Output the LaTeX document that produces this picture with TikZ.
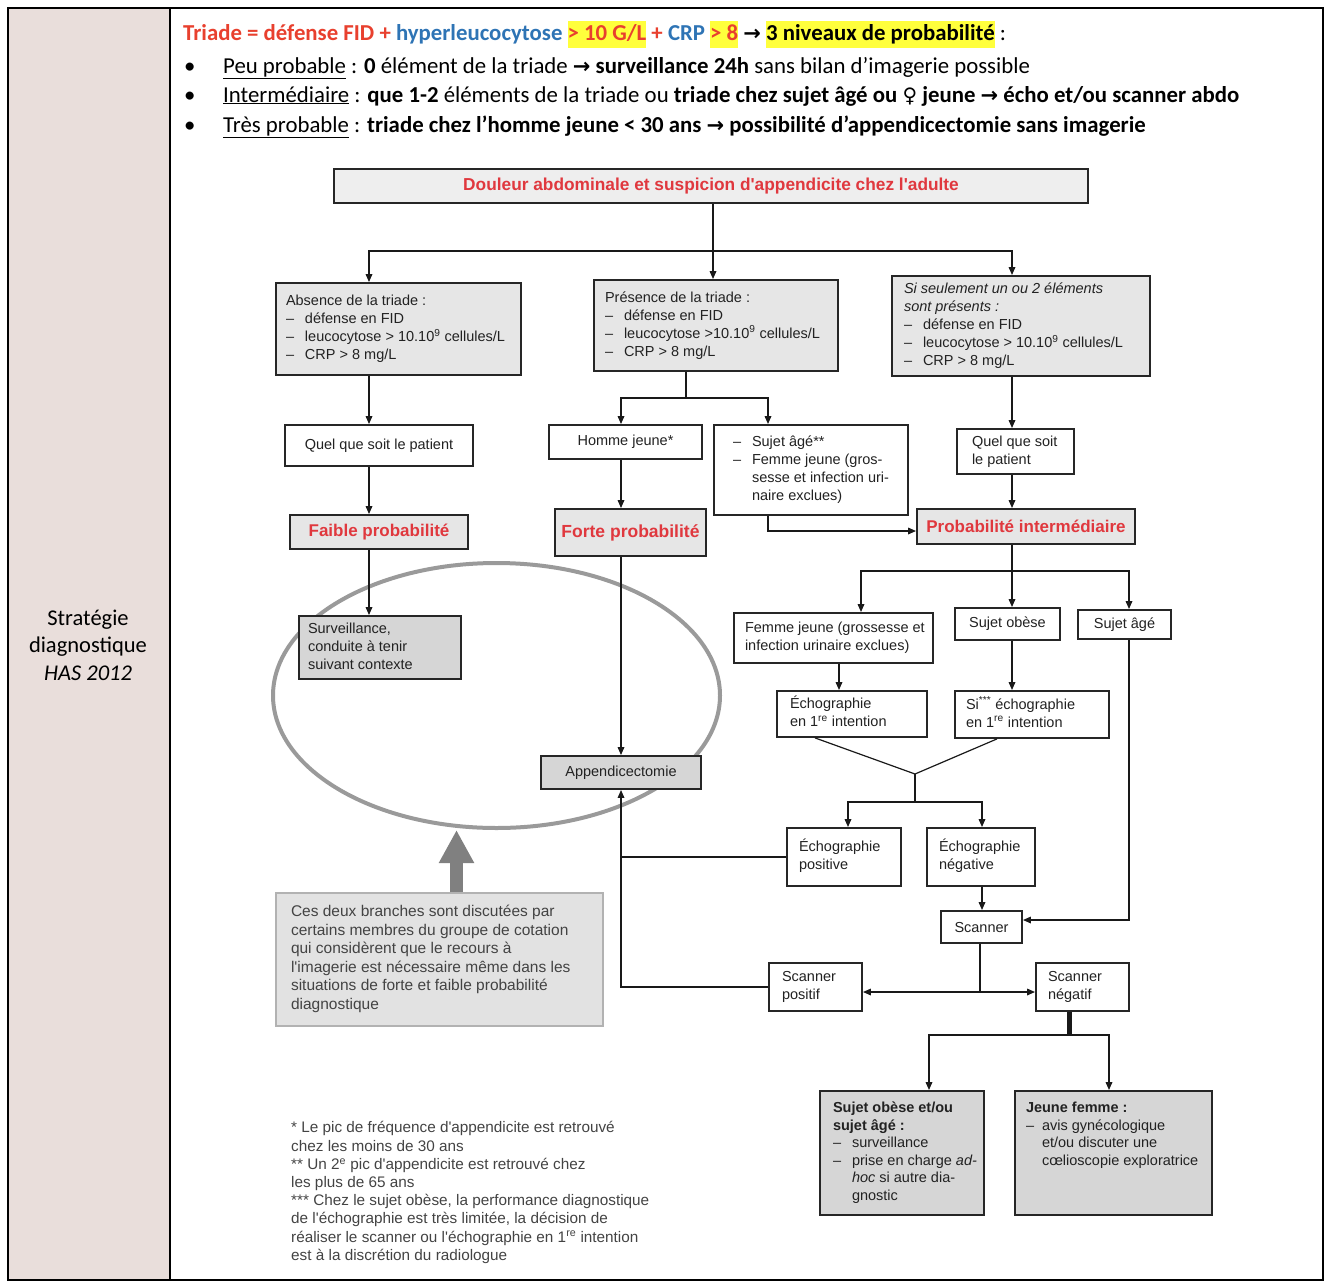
\documentclass[tikz,border=0pt]{standalone}
\usepackage{fontspec}
\setmainfont{Liberation Sans}
\newfontfamily\calfont{Carlito}
\newfontfamily\djv{DejaVu Sans}
\usetikzlibrary{arrows.meta,shapes.geometric}
\definecolor{pinkbg}{HTML}{E9DEDB}
\definecolor{topred}{HTML}{E8402E}
\definecolor{topblue}{HTML}{2E74B5}
\definecolor{hlyellow}{HTML}{FFFF3C}
\definecolor{fred}{HTML}{E0383E}
\definecolor{txt}{HTML}{222222}
\definecolor{titlegray}{HTML}{EEEEEE}
\definecolor{lgray}{HTML}{E6E6E6}
\definecolor{dgray}{HTML}{D6D6D6}
\definecolor{notegray}{HTML}{E2E2E2}
\definecolor{ellgray}{HTML}{9A9A9A}
\definecolor{bigarrowgray}{HTML}{808080}
\newcommand\itm{\makebox[19pt][l]{–}}
\newcommand\ind{\hspace*{19pt}}
\newcommand\q{\textquotesingle}
\newcommand\lt[2]{\makebox[#1pt][l]{\begin{tabular}{@{}l@{}}#2\end{tabular}}}
\newcommand\hly[1]{{\setlength{\fboxsep}{0pt}\colorbox{hlyellow}{\strut#1}}}
\newcommand\rarr{{\djv\bfseries\fontsize{21}{24}\selectfont →}}
\tikzset{
  box/.style={draw=black!85, line width=1.8pt, inner ysep=0pt, inner xsep=0pt, text=txt},
  wbox/.style={box, fill=white},
  gbox/.style={box, fill=lgray},
  dbox/.style={box, fill=dgray},
  redtitle/.style={font=\fontsize{17}{20}\selectfont\bfseries, text=fred},
  arr/.style={line width=1.6pt, draw=black!90, -{Triangle[length=8pt,width=6.5pt]}},
  ln/.style={line width=1.6pt, draw=black!90},
  toptext/.style={anchor=base west, inner sep=0pt, font=\calfont\fontsize{22.8}{27}\selectfont},
}
\begin{document}
\begin{tikzpicture}[x=1pt,y=-1pt,font=\fontsize{14.5}{18}\selectfont]
\useasboundingbox (0,0) rectangle (1334,1283);
% table frame
\fill[pinkbg] (8,8) rectangle (170,1280);
\draw[line width=1.5pt] (8,8) rectangle (1323,1280);
\draw[line width=1.5pt] (170,8) -- (170,1280);
\node[align=center, inner sep=0pt, font=\calfont\fontsize{22.5}{27.5}\selectfont] (side) at (88,645) {Stratégie\\diagnostique\\\textit{HAS 2012}};

% top text
\node[toptext] (t1) at (183,40) {\bfseries\textcolor{topred}{Triade = défense FID +} \textcolor{topblue}{hyperleucocytose} \hly{\textcolor{topred}{> 10 G/L}} \textcolor{topred}{+} \textcolor{topblue}{CRP} \hly{\textcolor{topred}{> 8}} \rarr\ \hly{3 niveaux de probabilité}\mdseries\ :};
\node[toptext] (t2) at (184,73) {\makebox[39pt][l]{•}\underline{Peu probable} : \textbf{0} élément de la triade \rarr\ \textbf{surveillance 24h} sans bilan d’imagerie possible};
\node[toptext] (t3) at (184,102) {\makebox[39pt][l]{•}\underline{Intermédiaire} : \textbf{que 1-2} éléments de la triade ou \textbf{triade chez sujet âgé ou {\djv\mdseries\fontsize{20}{24}\selectfont ♀} jeune \rarr\ écho et/ou scanner abdo}};
\node[toptext] (t4) at (184,132) {\makebox[39pt][l]{•}\underline{Très probable} : \textbf{triade chez l’homme jeune < 30 ans \rarr\ possibilité d’appendicectomie sans imagerie}};

% ellipse (behind boxes)
\node[draw=ellgray, line width=4pt, ellipse, minimum width=447, minimum height=265, inner sep=0pt] (ell) at (496.5,695.5) {};

% boxes
\node[box, fill=titlegray, minimum width=754, minimum height=34, font=\fontsize{17.3}{20}\selectfont\bfseries, text=fred] (top) at (711,186) {Douleur abdominale et suspicion d\q appendicite chez l\q adulte};
\node[gbox, minimum height=92, inner xsep=10] (abs) at (398.5,329) {\lt{225}{Absence de la triade :\\ \itm défense en FID\\ \itm leucocytose > 10.10\textsuperscript{9} cellules/L\\ \itm CRP > 8 mg/L}};
\node[gbox, minimum height=91, inner xsep=11] (pres) at (716,325.5) {\lt{222}{Présence de la triade :\\ \itm défense en FID\\ \itm leucocytose >10.10\textsuperscript{9} cellules/L\\ \itm CRP > 8 mg/L}};
\node[gbox, minimum height=100, inner xsep=12] (seul) at (1021,326) {\lt{234}{\textit{Si seulement un ou 2 éléments}\\ \textit{sont présents :}\\ \itm défense en FID\\ \itm leucocytose > 10.10\textsuperscript{9} cellules/L\\ \itm CRP > 8 mg/L}};
\node[wbox, minimum width=188, minimum height=41] (q1) at (379,445.5) {Quel que soit le patient};
\node[gbox, redtitle, minimum width=178, minimum height=34] (faible) at (379,532) {Faible probabilité};
\node[dbox, minimum height=63, inner xsep=9] (surv) at (380,647.5) {\lt{144}{Surveillance,\\conduite à tenir\\suivant contexte}};
\node[wbox, minimum width=153, minimum height=34] (homme) at (625.5,442) {Homme jeune*};
\node[wbox, minimum height=90, inner xsep=19] (sa) at (811,470) {\lt{156}{\itm Sujet âgé**\\ \itm Femme jeune (gros-\\ \ind sesse et infection uri-\\ \ind naire exclues)}};
\node[gbox, redtitle, font=\fontsize{17.5}{20}\selectfont\bfseries, minimum width=151, minimum height=47] (forte) at (630.5,532.5) {Forte probabilité};
\node[dbox, minimum width=160, minimum height=33] (app) at (621,772.5) {Appendicectomie};
\node[wbox, minimum height=45, inner xsep=15] (q2) at (1015.5,451.5) {\lt{87}{Quel que soit\\le patient}};
\node[gbox, redtitle, minimum width=218, minimum height=35] (pint) at (1026,526.5) {Probabilité intermédiaire};
\node[wbox, minimum height=50, inner xsep=11] (fj) at (833.5,638) {\lt{177}{Femme jeune (grossesse et\\infection urinaire exclues)}};
\node[wbox, minimum width=105, minimum height=32] (ob) at (1007.5,624) {Sujet obèse};
\node[wbox, minimum width=93, minimum height=29] (ag) at (1124.5,624.5) {Sujet âgé};
\node[wbox, minimum height=46, inner xsep=13] (e1) at (852,714) {\lt{124}{Échographie\\en 1\textsuperscript{re} intention}};
\node[wbox, minimum height=47, inner xsep=11] (si) at (1032,714.5) {\lt{132}{Si\textsuperscript{***} échographie\\en 1\textsuperscript{re} intention}};
\node[wbox, minimum height=58, inner xsep=12] (ep) at (844,857) {\lt{90}{Échographie\\positive}};
\node[wbox, minimum height=58, inner xsep=12] (en) at (981,857) {\lt{84}{Échographie\\négative}};
\node[wbox, minimum width=81, minimum height=32] (sc) at (981.5,927) {Scanner};
\node[wbox, minimum height=48, inner xsep=13] (sp) at (815.5,987) {\lt{67}{Scanner\\positif}};
\node[wbox, minimum height=48, inner xsep=12] (sn) at (1082.5,987) {\lt{69}{Scanner\\négatif}};
\node[dbox, minimum height=124, inner xsep=13, font=\fontsize{14.5}{17.5}\selectfont] (fo) at (902,1153) {\lt{138}{\textbf{Sujet obèse et/ou}\\ \textbf{sujet âgé :}\\ \itm surveillance\\ \itm prise en charge \textit{ad-}\\ \ind\textit{hoc} si autre dia-\\ \ind gnostic}};
\node[dbox, minimum height=124, inner xsep=11, font=\fontsize{14.5}{17.5}\selectfont] (jf) at (1113.5,1153) {\lt{175}{\textbf{Jeune femme :}\\ \makebox[16pt][l]{–}avis gynécologique\\ \hspace*{16pt}et/ou discuter une\\ \hspace*{16pt}cœlioscopie exploratrice\\ ~\\ ~}};
\node[draw=gray!60, fill=notegray, line width=1.2pt, minimum height=133, inner xsep=15, inner ysep=0pt, text=txt!85, font=\fontsize{15.5}{18.5}\selectfont] (note) at (439.5,959.5) {\lt{297}{Ces deux branches sont discutées par\\certains membres du groupe de cotation\\qui considèrent que le recours à\\l\q imagerie est nécessaire même dans les\\situations de forte et faible probabilité\\diagnostique}};
\node[anchor=north west, inner sep=0pt, text=txt!85, font=\fontsize{15.3}{18.2}\selectfont] (foot) at (291,1120) {\lt{380}{{}* Le pic de fréquence d\q appendicite est retrouvé\\{}chez les moins de 30 ans\\{}** Un 2\textsuperscript{e} pic d\q appendicite est retrouvé chez\\{}les plus de 65 ans\\{}*** Chez le sujet obèse, la performance diagnostique\\{}de l\q échographie est très limitée, la décision de\\{}réaliser le scanner ou l\q échographie en 1\textsuperscript{re} intention\\{}est à la discrétion du radiologue}};

% column coordinates
\coordinate (cL) at (369,0);
\coordinate (cM) at (713,0);
\coordinate (cP) at (686,0);
\coordinate (cH) at (621,0);
\coordinate (cS) at (768,0);
\coordinate (cR) at (1012,0);
\coordinate (cF) at (861,0);
\coordinate (cE) at (839,0);
\coordinate (cA) at (1129,0);
\coordinate (cEP) at (848,0);
\coordinate (cEN) at (982,0);
\coordinate (cSc) at (980,0);
\coordinate (cSN) at (1069,0);
\coordinate (cB1) at (929,0);
\coordinate (cB2) at (1109,0);
\coordinate (bx) at (456.5,0);
\coordinate (j1) at (713,251);
\coordinate (j2) at (686,398);
\coordinate (y3) at (0,531);
\coordinate (j4) at (1012,571);
\coordinate (d1) at (815,0);
\coordinate (d2) at (997,0);
\coordinate (j5) at (915,774);
\coordinate (j6) at (915,802);
\coordinate (y7) at (0,920);
\coordinate (j8) at (980,992);
\coordinate (j9) at (1069,1035);

% connectors
\draw[arr] (top.south -| cM) -- (pres.north -| cM);
\draw[arr] (j1) -| (abs.north -| cL);
\draw[arr] (j1) -| (seul.north -| cR);
\draw[arr] (abs.south -| cL) -- (q1.north -| cL);
\draw[arr] (q1.south -| cL) -- (faible.north -| cL);
\draw[arr] (faible.south -| cL) -- (surv.north -| cL);
\draw[ln] (pres.south -| cP) -- (j2);
\draw[arr] (j2) -| (homme.north -| cH);
\draw[arr] (j2) -| (sa.north -| cS);
\draw[arr] (homme.south -| cH) -- (forte.north -| cH);
\draw[arr] (forte.south -| cH) -- (app.north -| cH);
\draw[arr] (sa.south -| cS) |- (pint.west |- y3);
\draw[arr] (seul.south -| cR) -- (q2.north -| cR);
\draw[arr] (q2.south -| cR) -- (pint.north -| cR);
\draw[arr] (pint.south -| cR) -- (ob.north -| cR);
\draw[arr] (j4) -| (fj.north -| cF);
\draw[arr] (j4) -| (ag.north -| cA);
\draw[arr] (fj.south -| cE) -- (e1.north -| cE);
\draw[arr] (ob.south -| cR) -- (si.north -| cR);
\draw[ln, line width=1.2pt] (e1.south -| d1) -- (j5) -- (si.south -| d2);
\draw[ln, line width=1.2pt] (j5) -- (j6);
\draw[arr] (j6) -| (ep.north -| cEP);
\draw[arr] (j6) -| (en.north -| cEN);
\draw[ln] (ep.west) -- (ep.west -| cH);
\draw[arr] (sp.west) -| (app.south -| cH);
\draw[arr] (en.south -| cEN) -- (sc.north -| cEN);
\draw[arr] (ag.south -| cA) |- (sc.east |- y7);
\draw[ln] (sc.south -| cSc) -- (j8);
\draw[arr] (j8) -- (sp.east |- j8);
\draw[arr] (j8) -- (sn.west |- j8);
\draw[ln, line width=5pt] (sn.south -| cSN) -- (j9);
\draw[arr] (j9) -| (fo.north -| cB1);
\draw[arr] (j9) -| (jf.north -| cB2);
\draw[line width=13pt, draw=bigarrowgray, -{Triangle[length=33pt,width=33pt]}] (note.north -| bx) -- (ell.south -| bx);
\end{tikzpicture}
\end{document}
